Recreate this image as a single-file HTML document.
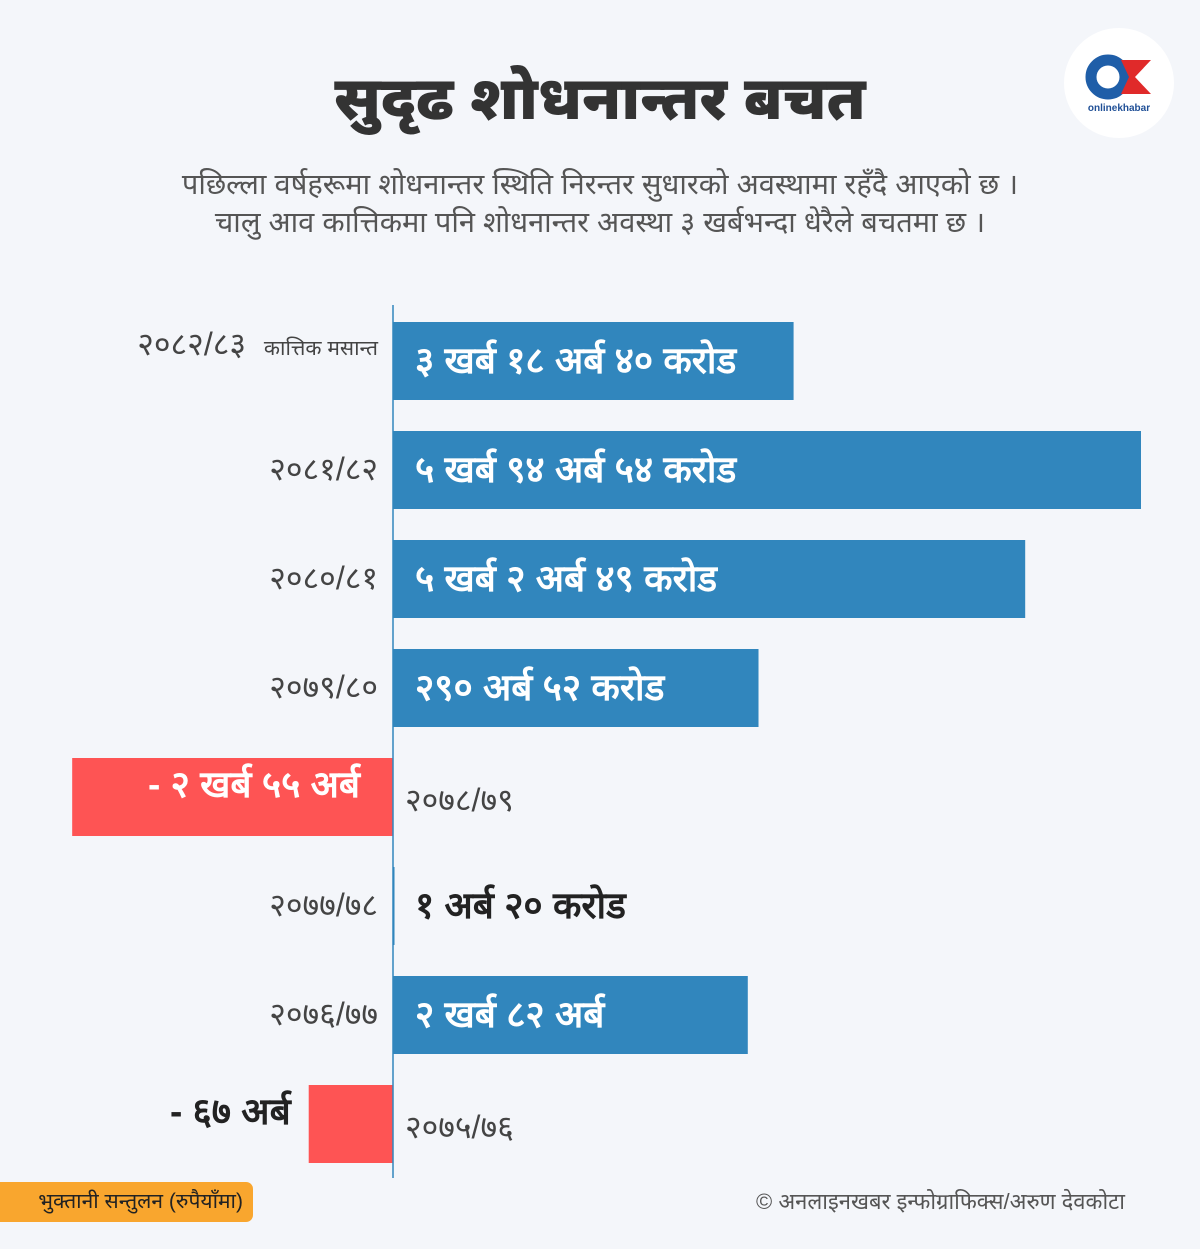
<!DOCTYPE html>
<html><head><meta charset="utf-8"><style>
body{margin:0;background:#f4f6fa;font-family:"Liberation Sans","Noto Sans Devanagari",sans-serif;}
#c{position:relative;width:1200px;height:1249px;overflow:hidden;background:#f4f6fa}
.t{position:absolute;white-space:nowrap}
</style></head><body>
<div id="c">
<div class="t" style="left:0;width:1200px;top:64px;text-align:center;font-size:60px;font-weight:900;color:#333">सुदृढ शोधनान्तर बचत</div>
<div class="t" style="left:0;width:1200px;top:166px;text-align:center;font-size:29px;line-height:38px;color:#555">पछिल्ला वर्षहरूमा शोधनान्तर स्थिति निरन्तर सुधारको अवस्थामा रहँदै आएको छ ।<br>चालु आव कात्तिकमा पनि शोधनान्तर अवस्था ३ खर्बभन्दा धेरैले बचतमा छ ।</div>
<svg style="position:absolute;left:1063px;top:27px" width="112" height="112">
<circle cx="56" cy="56" r="55" fill="#fff"/>
<circle cx="45" cy="50" r="17" fill="none" stroke="#1f5ea8" stroke-width="11"/>
<polygon points="58,33 88,33 72,50 88,67 58,67 66,50" fill="#e02a2a"/>
<text x="56" y="84" text-anchor="middle" font-size="10" font-weight="bold" fill="#1f4f96" font-family="Liberation Sans">onlinekhabar</text>
</svg>
<svg id="chart" style="position:absolute;left:0;top:0" width="1200" height="1249"></svg>
<div class="t" style="left:0;top:1182px;width:253px;height:40px;background:#f9a62e;border-radius:0 7px 7px 0;font-size:21px;line-height:40px;color:#222;text-align:right"><span style="margin-right:10px">भुक्तानी सन्तुलन (रुपैयाँमा)</span></div>
<div class="t" style="left:756px;top:1189px;font-size:22px;color:#555">© अनलाइनखबर इन्फोग्राफिक्स/अरुण देवकोटा</div>
</div>
<script>
const years=["२०८२/८३","२०८१/८२","२०८०/८१","२०७९/८०","२०७८/७९","२०७७/७८","२०७६/७७","२०७५/७६"];
const values=[318.4,594.54,502.49,290.52,-255,1.2,282,-67];
const valueLabels=["३ खर्ब १८ अर्ब ४० करोड","५ खर्ब ९४ अर्ब ५४ करोड","५ खर्ब २ अर्ब ४९ करोड","२९० अर्ब ५२ करोड","- २ खर्ब ५५ अर्ब","१ अर्ब २० करोड","२ खर्ब ८२ अर्ब","- ६७ अर्ब"];
const svg=document.getElementById('chart');const NS='http://www.w3.org/2000/svg';
const x0=393,k=748/594.54;const xs=v=>x0+v*k;const ys=i=>322+i*109;const bh=78;
function el(t,a){const e=document.createElementNS(NS,t);for(const n in a)e.setAttribute(n,a[n]);svg.appendChild(e);return e;}
values.forEach((v,i)=>{
const x=Math.min(xs(v),x0),w=Math.abs(xs(v)-x0),y=ys(i);
const r=el('rect',{x:x,y:y,width:Math.max(w,1.5),height:bh,fill:v<0?'#fe5454':'#3186bd'});


const yl=el('text',{y:y+bh/2+10,'font-size':32,fill:'#444','font-family':'Liberation Sans, sans-serif'});
yl.textContent=years[i];
if(v<0){yl.setAttribute('x',405);yl.setAttribute('y',y+bh/2+14);}else{yl.setAttribute('x',378);yl.setAttribute('text-anchor','end');}


if(i===0){yl.setAttribute('x',246);yl.setAttribute('y',y+bh/2-6);const s=el('text',{x:378,y:y+bh/2-6,'text-anchor':'end','font-size':21,fill:'#444'});s.textContent='कात्तिक मसान्त';

}
const vl=el('text',{y:y+bh/2+12,'font-size':37,'font-weight':'bold','font-family':'Liberation Sans, sans-serif'});
vl.textContent=valueLabels[i];
if(v<0){vl.setAttribute('text-anchor','end');if(w>200){vl.setAttribute('x',x0-33);vl.setAttribute('fill','#fff');}else{vl.setAttribute('x',x-18);vl.setAttribute('fill','#222');}vl.setAttribute('y',y+bh/2);}
else{vl.setAttribute('x',415);vl.setAttribute('fill',w>100?'#fff':'#222');}


});
const ax=el('line',{x1:x0,x2:x0,y1:305,y2:1178,stroke:'#3186bd','stroke-width':1.5});


</script>
</body></html>
